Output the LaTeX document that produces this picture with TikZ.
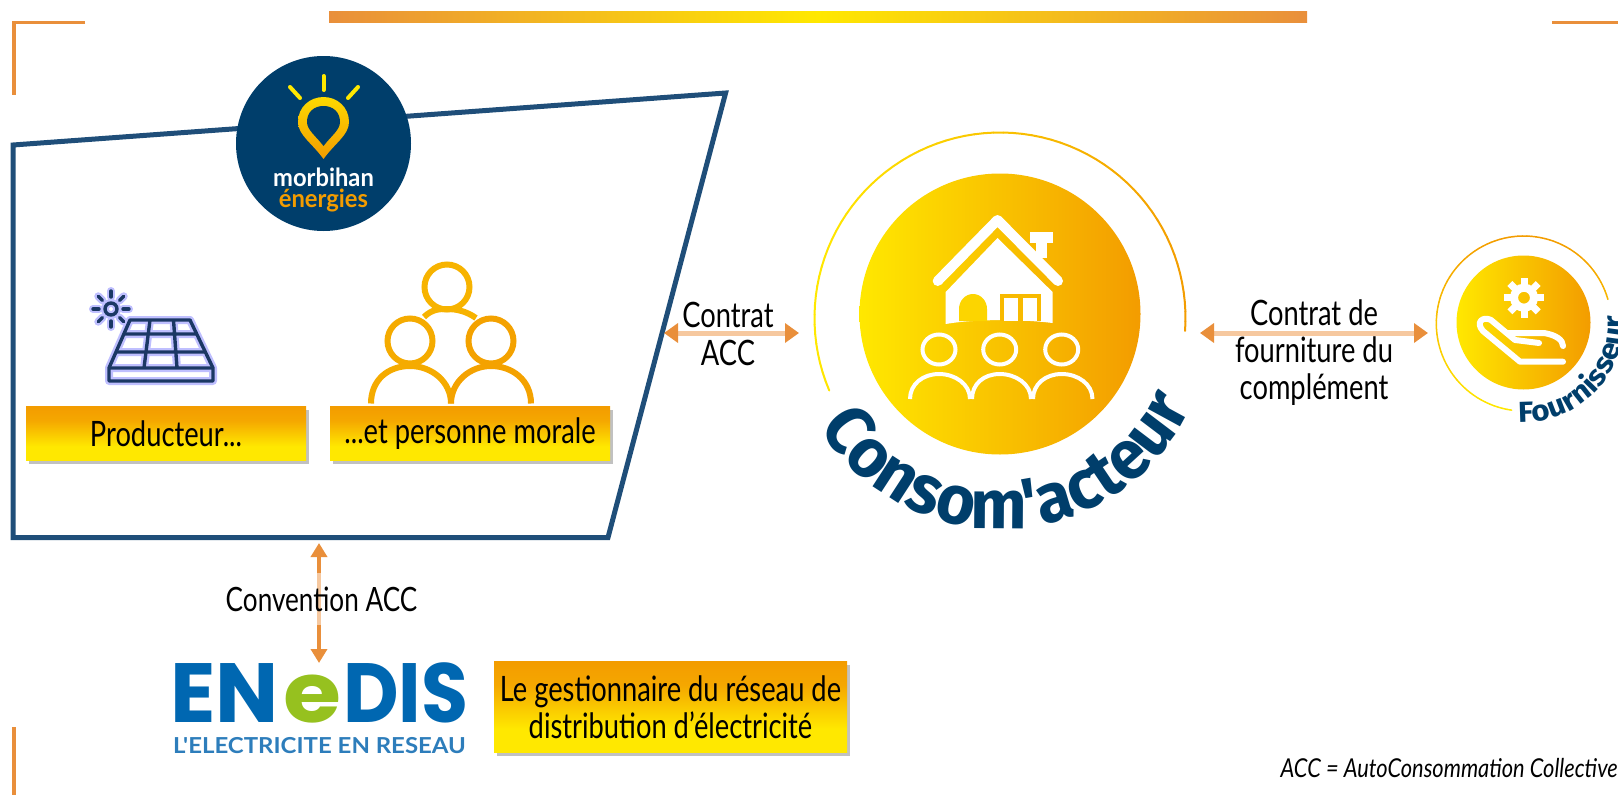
\documentclass[tikz,border=0pt]{standalone}
\usepackage{fontspec}
\usetikzlibrary{arrows.meta,shadows,decorations.text,calc}
\newfontfamily\bodyf{Lato}[FakeStretch=0.78]
\newfontfamily\itf{Lato}[FakeStretch=0.84,ItalicFont=* Italic]
\newfontfamily\logof{Lato Bold}[FakeStretch=0.95]
\newfontfamily\tagf{Lato Bold}[FakeStretch=1.09]
\newfontfamily\curvef{Fira Sans}[BoldFont=* Bold,FakeStretch=0.97]
\newfontfamily\fourfam{Fira Sans}[BoldFont=* Bold,FakeStretch=1.08]
\newfontfamily\enef{Poppins}[BoldFont=* Bold]
\newcommand{\consomf}{\curvef\bfseries\fontsize{69}{70}\selectfont\color{logoblue}}
\newcommand{\fourf}{\fourfam\bfseries\fontsize{29}{30}\selectfont\color{logoblue}}
\definecolor{logoblue}{RGB}{0,62,107}
\definecolor{frameblue}{RGB}{31,78,121}
\definecolor{orng}{RGB}{243,156,0}
\definecolor{yell}{RGB}{255,232,0}
\definecolor{arrd}{RGB}{233,143,59}
\definecolor{arrl}{RGB}{246,200,159}
\definecolor{enblue}{RGB}{0,103,177}
\definecolor{engreen}{RGB}{150,193,31}
\definecolor{enlight}{RGB}{45,125,187}
\definecolor{panelblue}{RGB}{27,56,100}
\pgfdeclareverticalshading{boxgrad}{100bp}{color(0bp)=(yell);color(25bp)=(yell);color(38bp)=(yell);color(62bp)=(orng!85!yell);color(75bp)=(orng);color(100bp)=(orng)}
\pgfdeclarehorizontalshading{circgrad}{100bp}{color(0bp)=(yell);color(25bp)=(yell);color(75bp)=(orng);color(100bp)=(orng)}
\pgfdeclarehorizontalshading{bargrad}{100bp}{color(0bp)=(arrd);color(25bp)=(arrd);color(50bp)=(yell);color(75bp)=(arrd);color(100bp)=(arrd)}
\pgfdeclareverticalshading{pingrad}{100bp}{color(0bp)=(orng);color(25bp)=(orng);color(75bp)=(yell!80!orng);color(100bp)=(yell)}
\tikzset{
  x=1pt,y=-1pt,
  cornerline/.style={draw=arrd,line width=3.5pt},
  gradbox/.style={shade,shading=boxgrad,inner sep=0pt,drop shadow={shadow xshift=2.5pt,shadow yshift=-3.5pt,opacity=.35,fill=black!70}},
  lbl/.style={font=\bodyf\fontsize{35}{37}\selectfont,text=black,align=center,inner sep=0pt},
  biarrow/.style={line width=5pt,draw=arrl,{Triangle[length=14pt,width=19pt,color=arrd]}-{Triangle[length=14pt,width=19pt,color=arrd]}},
  panel/.style={line join=round},
  orangeicon/.style={draw=orng!92!yell,line width=6pt},
  whiteicon/.style={draw=white,line width=6pt,line cap=round,line join=round},
  enletters/.style={inner sep=0pt,font=\enef\bfseries\fontsize{84}{84}\selectfont},
}
\begin{document}
\begin{tikzpicture}
\useasboundingbox (0,0) rectangle (1618,795);
\clip (0,0) rectangle (1618,795);
% frame marks
\shade[shading=bargrad] (329,11) rectangle (1307,22);
\draw[cornerline] (85,22.5) -- (14,22.5) -- (14,95);
\draw[cornerline] (1552,22.5) -- (1618,22.5);
\draw[cornerline] (14,727) -- (14,795);
% polygon
\draw[draw=frameblue,line width=5pt,miter limit=10] (13,145) -- (725.6,93) -- (608,537.5) -- (13,537.5) -- cycle;
% morbihan logo
\node[circle,fill=logoblue,minimum size=175pt,inner sep=0pt] (logo) at (323.5,143.5) {};
\draw[draw=yell,line width=4pt,line cap=round] (323.5,76) -- (323.5,90);
\draw[draw=yell,line width=4pt,line cap=round] (290,87) -- (300,98);
\draw[draw=yell,line width=4pt,line cap=round] (358,87) -- (348,98);
\shade[shading=pingrad] (323.5,159) .. controls (312,143) and (298,135) .. (298,122) .. controls (298,107) and (310,97) .. (323.5,97) .. controls (337,97) and (349,107) .. (349,122) .. controls (349,135) and (335,143) .. (323.5,159) -- cycle;
\fill[logoblue] (323.5,146) .. controls (316,136) and (307,130) .. (307,122) .. controls (307,112) and (314,106) .. (323.5,106) .. controls (333,106) and (340,112) .. (340,122) .. controls (340,130) and (331,136) .. (323.5,146) -- cycle;
\node[font=\logof\fontsize{25}{25}\selectfont,text=white,inner sep=0pt] (morb) at (323.5,177) {morbihan};
\node[font=\logof\fontsize{25}{25}\selectfont,text=orng,inner sep=0pt] (ener) at (323.5,200) {énergies};
% solar panel
\foreach \w/\c in {8pt/blue!25,3.4pt/panelblue}{
  \draw[draw=\c,line width=\w,panel] (130,320) -- (190,320) -- (213,368) -- (213,381) -- (109,381) -- (109,368) -- cycle;
  \draw[draw=\c,line width=\w,panel] (109,368) -- (213,368) (124,334) -- (197,334) (116,352) -- (205,352) (150,320) -- (144,368) (173.5,320) -- (177,368);
  \draw[draw=\c,line width=\w] (111,309) circle (6pt);
  \foreach \a in {0,45,...,315}{\draw[draw=\c,line width=\w,line cap=round] ({111+12*cos(\a)},{309+12*sin(\a)}) -- ({111+18*cos(\a)},{309+18*sin(\a)});}
}
% group icon
\draw[orangeicon,draw=orng!70!yell] (447,287) circle (22.5pt);
\draw[orangeicon,draw=orng!70!yell] (424,317) .. controls (432,309) and (440,309) .. (447,309) .. controls (456,309) and (466,311) .. (476,318);
\draw[orangeicon,draw=orng!80!yell] (410,341) circle (22.5pt);
\draw[orangeicon] (491,341) circle (22.5pt);
\draw[orangeicon,draw=orng!80!yell] (371,403.5) .. controls (371,380) and (388,366) .. (410,366) .. controls (432,366) and (451,382) .. (451,403.5);
\draw[orangeicon] (451,403.5) .. controls (451,382) and (470,366) .. (491,366) .. controls (512,366) and (531,380) .. (531,403.5);
% boxes
\node[gradbox,minimum width=280pt,minimum height=54pt] (prodbox) at (166,433.5) {};
\node[lbl] (prodtxt) at (prodbox.center) {Producteur...};
\node[gradbox,minimum width=280pt,minimum height=54pt] (persbox) at (470,433.5) {};
\node[lbl] (perstxt) at (persbox.center) {...et personne morale};
% consom circle
\node[circle,shade,shading=circgrad,minimum size=281pt,inner sep=0pt] (consom) at (1000,314) {};
\foreach \a [evaluate=\a as \p using {50-50*cos(\a)}] in {157,160,...,361}{
  \draw[draw=yell!\p!orng,line width=2pt,line cap=round] ({1000+185.5*cos(\a)},{318+185.5*sin(\a)}) -- ({1000+185.5*cos(\a+3)},{318+185.5*sin(\a+3)});
}
% house
\fill[white] (997.5,238) -- (1052.6,292) -- (1052.6,323) .. controls (1020,319) and (975,319) .. (945.7,324) -- (945.7,292) -- cycle;
\draw[draw=white,line width=10pt,line cap=round,line join=round] (937.7,281) -- (997.5,220) -- (1058,281);
\fill[white] (1030,231.7) rectangle (1052.6,243);
\fill[white] (1035.5,243) rectangle (1047,258);
\fill[orng!18!yell!92!orng] (959,321) -- (959,309) arc[start angle=180,end angle=0,x radius=14pt,y radius=15pt] -- (987,321) -- cycle;
\fill[orng!60!yell] (1000,294) rectangle (1041,321);
\fill[white] (1004,298) rectangle (1018,321);
\fill[white] (1023,298) rectangle (1037,321);
% white people
\foreach \cx/\bl/\br in {939/910/970,999.7/972/1031,1061.7/1033/1092.5}{
  \draw[draw=white,line width=4pt] (\cx,349.5) ellipse[x radius=16.5pt,y radius=15pt];
  \draw[draw=white,line width=4pt] (\bl,399) .. controls (\bl,384) and ({\cx-16},374) .. (\cx,374) .. controls ({\cx+16},374) and (\br,384) .. (\br,399);
}
% curved labels
\path[decorate,decoration={text along path,text={|\consomf|Consom'acteur},text align=center}] plot[domain=172:2,samples=100] ({1000+211*cos(\x)},{318+211*sin(\x)});
% fournisseur
\node[circle,shade,shading=circgrad,minimum size=134pt,inner sep=0pt] (four) at (1523.5,322.5) {};
\foreach \a [evaluate=\a as \p using {50+50*sin(\a)}] in {98,101,...,343}{
  \draw[draw=yell!\p!orng,line width=1.5pt,line cap=round] ({1523.8+87.5*cos(\a)},{323.5+87.5*sin(\a)}) -- ({1523.8+87.5*cos(\a+3)},{323.5+87.5*sin(\a+3)});
}
\path[decorate,decoration={text along path,text={|\fourf|Fournisseur},text align=left}] plot[domain=93:-20,samples=60] ({1523.5+100*cos(\x)},{322.5+100*sin(\x)});
% hand and gear
\draw[draw=white,line width=8pt] (1524,297.7) circle (10pt);
\foreach \a in {0,45,...,315}{\draw[draw=white,line width=7pt] ({1524+13*cos(\a)},{297.7+13*sin(\a)}) -- ({1524+20*cos(\a)},{297.7+20*sin(\a)});}
\draw[whiteicon] (1563,361.7) -- (1520,361.7) -- (1483,331) .. controls (1475,322) and (1483,316) .. (1491,320) -- (1515,340) -- (1539,343);
\draw[whiteicon] (1507,333) -- (1544,333) .. controls (1556,335) and (1563,340) .. (1563,346);
% enedis
\node[enletters,anchor=base east,text=enblue] (enL) at (279,722) {\scalebox{1.0}[1]{EN}};
\node[enletters,anchor=base,text=engreen] (enM) at (312,722) {\scalebox{1.12}[1]{e}};
\node[enletters,anchor=base west,text=enblue] (enR) at (343,722) {\scalebox{0.91}[1]{DIS}};
\node[inner sep=0pt,text=enlight,font=\tagf\fontsize{22}{22}\selectfont] (entag) at (319.5,746) {L'ELECTRICITE EN RESEAU};
\node[gradbox,minimum width=353pt,minimum height=91pt] (gridbox) at (670.5,707) {};
\node[lbl] (gridtxt) at (gridbox.center) {Le gestionnaire du réseau de\\distribution d’électricité};
% arrows
\coordinate (a1) at (664,333);
\coordinate (a2) at (799,333);
\coordinate (b1) at (1200,333);
\coordinate (b2) at (1428,333);
\coordinate (c1) at (319,543);
\coordinate (c2) at (319,663);
\draw[biarrow] (a1) -- (a2);
\draw[biarrow] (b1) -- (b2);
\draw[biarrow,draw=arrd,line width=4pt,{Triangle[length=14pt,width=16pt,color=arrd]}-{Triangle[length=14pt,width=16pt,color=arrd]}] (c1) -- (c2);
\coordinate (c3) at (319,573);
\coordinate (c4) at (319,625);
\draw[draw=arrl,line width=4pt] (c3) -- (c4);
\node[lbl] (t1) at (728,334) {Contrat\\[1pt]ACC};
\node[lbl] (t2) at (1314,352.5) {Contrat de\\fourniture du\\complément};
\node[lbl,font=\bodyf\fontsize{33.5}{37}\selectfont] (t3) at (321.5,599) {Convention ACC};
\node[inner sep=0pt,anchor=east,font=\itf\itshape\fontsize{26}{26}\selectfont] (t4) at (1618,768) {ACC = AutoConsommation Collective};
\end{tikzpicture}
\end{document}
